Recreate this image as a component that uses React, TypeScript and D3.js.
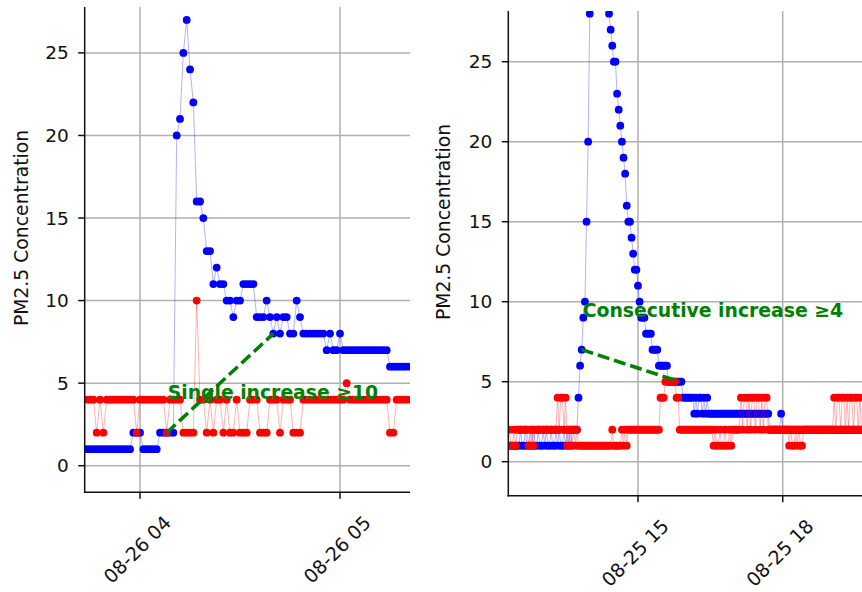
import { useEffect, useRef } from 'react';
import * as d3 from 'd3';

// ---- left panel: one reading per minute, starting 08-26 03:44 ----
const leftStart = new Date(2024, 7, 26, 3, 44);
const leftStepMin = 1;
const leftBlue = [
  1, 1, 1, 1, 1, 1, 1, 1, 1, 1, 1, 1, 1, 1, 2, 2, 2, 1, 1, 1,
  1, 1, 2, 2, 2, 2, 2, 20, 21, 25, 27, 24, 22, 16, 16, 15, 13, 13, 11, 12,
  11, 11, 10, 10, 9, 10, 10, 11, 11, 11, 11, 9, 9, 9, 10, 9, 8, 9, 8, 9,
  9, 8, 8, 10, 9, 8, 8, 8, 8, 8, 8, 8, 7, 8, 7, 7, 8, 7, 7, 7,
  7, 7, 7, 7, 7, 7, 7, 7, 7, 7, 7, 6, 6, 6, 6, 6, 6, 6,
];
const leftRed = [
  4, 4, 4, 2, 4, 2, 4, 4, 4, 4, 4, 4, 4, 4, 4, 2, 4, 4, 4, 4,
  4, 4, 4, 4, 2, 4, 4, 4, 4, 2, 2, 2, 2, 10, 4, 4, 2, 4, 2, 4,
  4, 2, 4, 2, 2, 4, 2, 2, 2, 4, 4, 4, 2, 2, 2, 4, 4, 4, 2, 4,
  4, 4, 2, 2, 2, 4, 4, 4, 4, 4, 4, 4, 4, 4, 4, 4, 4, 4, 5, 4,
  4, 4, 4, 4, 4, 4, 4, 4, 4, 4, 4, 2, 2, 4, 4, 4, 4, 4,
];
const leftSpan = [new Date(2024, 7, 26, 3, 43, 24), new Date(2024, 7, 26, 5, 21, 0)];
const leftTicks = [new Date(2024, 7, 26, 4), new Date(2024, 7, 26, 5)];
const leftJump = { from: 24, to: 56, label: 'Single increase \u226510' };

// ---- right panel: one reading every two minutes, starting 08-25 12:20 ----
const rightStart = new Date(2024, 7, 25, 12, 20);
const rightStepMin = 2;
const rightBlue = [
  1, 1, 1, 1, 1, 1, 1,
  2, 1, 1, 2, 1, 1, 2, 1, 2, 1, 1, 2, 1, 1, 2, 1, 2, 1, 1, 2, 1, 1, 2, 1, 2, 1, 1, 2, 1, 2, 1, 2, 1, 2,
  2, 2,
  4, 6, 7, 9, 10, 15, 20, 28,
  34, 39, 43, 46, 48, 47, 45, 42, 38, 34, 30,
  28, 27, 26, 25, 25, 23, 22, 21, 20, 19, 18, 16, 15, 15, 14, 13, 12, 12, 11, 10,
  9, 9, 9,
  8, 8, 8, 8,
  7, 7, 7, 7,
  6, 6, 6, 6, 6, 6,
  5, 5, 5, 5, 5, 5, 5, 5, 5,
  4, 4, 4, 4, 4, 4, 4,
  3, 4, 3, 4, 4, 3, 4, 3, 4, 3,
  3, 3, 3, 3, 3, 3, 3, 3, 3, 3, 3, 3, 3, 3, 3, 3, 3, 3, 3, 3,
  3, 3, 3, 3, 3, 3, 3, 3, 3, 3, 3, 3, 3, 3, 3, 3, 3,
  2, 2, 2, 2, 2, 2, 2, 3,
  2, 2, 2, 2, 2, 2, 2, 2, 2, 2, 2, 2, 2, 2, 2, 2, 2, 2, 2, 2,
  2, 2, 2, 2, 2, 2, 2, 2, 2, 2, 2, 2, 2, 2, 2, 2, 2, 2, 2, 2,
  2, 2, 2, 2, 2, 2, 2, 2, 2, 2, 2,
];
const rightRed = [
  2, 1, 1, 2, 1, 2,
  2, 2, 2, 2, 2, 2,
  1, 1, 2, 1, 2, 2,
  2, 2, 2, 2, 2, 2, 2, 2, 2, 2, 2, 2,
  4, 2, 4, 4, 2, 4,
  1, 2, 1, 2, 2, 1, 2, 1, 1,
  1, 1, 1, 1, 1, 1, 1, 1, 1, 1, 1, 1, 1, 1, 1, 1, 1, 1, 1,
  2, 1, 1, 1, 1, 1,
  2, 1, 2, 1,
  2, 2, 2, 2, 2, 2, 2, 2, 2, 2, 2, 2, 2, 2, 2, 2, 2, 2, 2, 2,
  4, 4, 4,
  5, 5, 5, 5, 5, 5, 5,
  4, 4,
  2, 2, 2, 2, 2, 2, 2, 2, 2, 2, 2, 2, 2, 2, 2, 2, 2, 2, 2, 2, 2,
  1, 2, 1, 1, 2, 1, 1, 2, 1, 1, 2, 1,
  2, 2, 2, 2, 2,
  4, 2, 4, 4, 2, 4, 2, 4, 4, 2, 4, 4, 2, 4, 2, 4, 4, 2,
  2, 2, 2, 2, 2, 2, 2, 2, 2, 2, 2, 2,
  1, 2, 1, 1, 2, 1, 2, 1, 1, 2,
  2, 2, 2, 2, 2, 2, 2, 2, 2, 2, 2, 2, 2, 2, 2, 2, 2, 2,
  4, 2, 4, 4, 2, 4, 4, 2, 4, 2, 4, 4, 2, 4, 4, 2, 4, 2, 2,
];
const rightSpan = [new Date(2024, 7, 25, 12, 18, 42), new Date(2024, 7, 25, 19, 38, 36)];
const rightTicks = [new Date(2024, 7, 25, 15), new Date(2024, 7, 25, 18)];
const rightJump = { from: 45, to: 106, label: 'Consecutive increase \u22654' };

const yTicks = [0, 5, 10, 15, 20, 25];
const yLabel = 'PM2.5 Concentration';

const FONT = 'DejaVu Sans, sans-serif';
const fmt = d3.timeFormat('%m-%d %H');

const panels = [
  {
    id: 'left', start: leftStart, step: leftStepMin, blue: leftBlue, red: leftRed,
    span: leftSpan, ticks: leftTicks, jump: leftJump,
    x0: 84.7, x1: 410, top: 7, bottom: 492.3, yDomain: [-1.61, 27.78],
    labelX: 21, labelY: 228,
  },
  {
    id: 'right', start: rightStart, step: rightStepMin, blue: rightBlue, red: rightRed,
    span: rightSpan, ticks: rightTicks, jump: rightJump,
    x0: 508.3, x1: 862, top: 11, bottom: 495.7, yDomain: [-2.125, 28.17],
    labelX: 443, labelY: 222,
  },
];

const App = () => {
  const svgRef = useRef<SVGSVGElement>(null);

  useEffect(() => {
    const svg = d3.select(svgRef.current);
    svg.selectAll('*').remove();

    panels.forEach((p) => {
      const x = d3.scaleTime().domain(p.span).range([p.x0, p.x1]);
      const y = d3.scaleLinear().domain(p.yDomain).range([p.bottom, p.top]);
      const timeAt = (i: number) => d3.timeMinute.offset(p.start, i * p.step);

      const g = svg.append('g');

      g.append('clipPath').attr('id', `clip-${p.id}`)
        .append('rect')
        .attr('x', p.x0).attr('y', p.top)
        .attr('width', p.x1 - p.x0).attr('height', p.bottom - p.top);

      // grid
      g.selectAll('.hgrid').data(yTicks).enter().append('line')
        .attr('x1', p.x0).attr('x2', p.x1)
        .attr('y1', (d) => y(d)).attr('y2', (d) => y(d))
        .attr('stroke', '#b0b0b0').attr('stroke-width', 1.5);
      g.selectAll('.vgrid').data(p.ticks).enter().append('line')
        .attr('x1', (d) => x(d)).attr('x2', (d) => x(d))
        .attr('y1', p.top).attr('y2', p.bottom)
        .attr('stroke', '#b0b0b0').attr('stroke-width', 1.5);

      const plot = g.append('g').attr('clip-path', `url(#clip-${p.id})`);

      const series = [
        { values: p.blue, color: '#0000ff' },
        { values: p.red, color: '#ff0000' },
      ];
      series.forEach((s) => {
        const line = d3.line<number>()
          .x((_, i) => x(timeAt(i)))
          .y((d) => y(d));
        plot.append('path')
          .attr('d', line(s.values))
          .attr('fill', 'none')
          .attr('stroke', s.color)
          .attr('stroke-opacity', 0.3)
          .attr('stroke-width', 1);
        plot.selectAll(null).data(s.values).enter().append('circle')
          .attr('cx', (_, i) => x(timeAt(i)))
          .attr('cy', (d) => y(d))
          .attr('r', 3.9)
          .attr('fill', s.color);
      });

      // annotation
      const j = p.jump;
      g.append('line')
        .attr('x1', x(timeAt(j.from))).attr('y1', y(p.blue[j.from]))
        .attr('x2', x(timeAt(j.to))).attr('y2', y(p.blue[j.to]))
        .attr('stroke', '#008000').attr('stroke-width', 3.5)
        .attr('stroke-dasharray', '12,5');
      g.append('text')
        .attr('x', x(timeAt(j.from)) + 1)
        .attr('y', y(p.blue[j.from] + 2.05))
        .attr('fill', '#008000')
        .style('font-family', FONT)
        .style('font-size', '18.8px')
        .style('font-weight', 'bold')
        .text(j.label);

      // spines
      g.append('line')
        .attr('x1', p.x0).attr('x2', p.x0).attr('y1', p.top).attr('y2', p.bottom + 0.75)
        .attr('stroke', '#111').attr('stroke-width', 1.5);
      g.append('line')
        .attr('x1', p.x0 - 0.75).attr('x2', p.x1).attr('y1', p.bottom).attr('y2', p.bottom)
        .attr('stroke', '#111').attr('stroke-width', 1.5);

      // y ticks
      g.selectAll('.ytick').data(yTicks).enter().append('line')
        .attr('x1', p.x0 - 6.5).attr('x2', p.x0)
        .attr('y1', (d) => y(d)).attr('y2', (d) => y(d))
        .attr('stroke', '#111').attr('stroke-width', 1.5);
      g.selectAll('.ylab').data(yTicks).enter().append('text')
        .attr('x', p.x0 - 16)
        .attr('y', (d) => y(d))
        .attr('text-anchor', 'end')
        .attr('dominant-baseline', 'central')
        .attr('fill', '#111')
        .style('font-family', FONT)
        .style('font-size', '18.5px')
        .text((d) => d);

      // x ticks
      g.selectAll('.xtick').data(p.ticks).enter().append('line')
        .attr('x1', (d) => x(d)).attr('x2', (d) => x(d))
        .attr('y1', p.bottom).attr('y2', p.bottom + 6.5)
        .attr('stroke', '#111').attr('stroke-width', 1.5);
      g.selectAll('.xlab').data(p.ticks).enter().append('text')
        .attr('transform', (d) => `translate(${x(d) - 3},${p.bottom + 57}) rotate(-45)`)
        .attr('text-anchor', 'middle')
        .attr('dominant-baseline', 'central')
        .attr('fill', '#111')
        .style('font-family', FONT)
        .style('font-size', '19px')
        .text((d) => fmt(d));

      // axis label
      g.append('text')
        .attr('transform', `translate(${p.labelX},${p.labelY}) rotate(-90)`)
        .attr('text-anchor', 'middle')
        .attr('dominant-baseline', 'central')
        .attr('fill', '#111')
        .style('font-family', FONT)
        .style('font-size', '18.8px')
        .text(yLabel);
    });
  }, []);

  return (
    <svg
      ref={svgRef}
      width={862}
      height={592}
      style={{ position: 'absolute', left: 0, top: 0, background: '#fff' }}
    />
  );
};

export default App;
